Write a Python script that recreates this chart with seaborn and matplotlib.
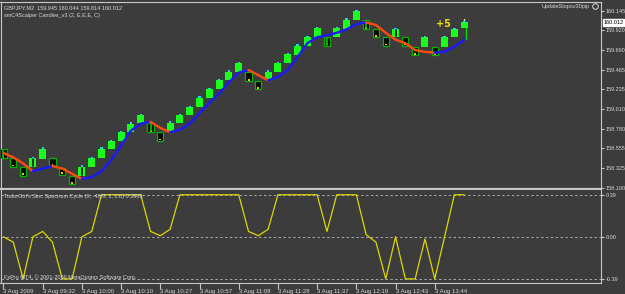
import numpy as np
import pandas as pd
import matplotlib
matplotlib.use("Agg")
import matplotlib.pyplot as plt
import seaborn as sns

# ---------------- data ----------------
bar_idx = list(range(48))
opens = [158.55, 158.44, 158.34, 158.34, 158.43, 158.44, 158.33, 158.24, 158.24, 158.34,
         158.44, 158.55, 158.64, 158.74, 158.85, 158.85, 158.74, 158.76, 158.85, 158.94,
         159.03, 159.14, 159.24, 159.34, 159.44, 159.44, 159.33, 159.34, 159.44, 159.54,
         159.63, 159.74, 159.84, 159.84, 159.84, 159.93, 160.04, 160.04, 159.93, 159.84,
         159.84, 159.84, 159.73, 159.73, 159.73, 159.73, 159.84, 159.945]
closes = [158.44, 158.34, 158.24, 158.44, 158.55, 158.35, 158.25, 158.14, 158.34, 158.44,
          158.55, 158.64, 158.74, 158.84, 158.94, 158.74, 158.64, 158.85, 158.94, 159.03,
          159.14, 159.24, 159.34, 159.44, 159.54, 159.33, 159.24, 159.44, 159.54, 159.645,
          159.74, 159.84, 159.945, 159.74, 159.945, 160.04, 160.14, 159.93, 159.84, 159.74,
          159.93, 159.74, 159.63, 159.84, 159.63, 159.84, 159.93, 160.012]
ma_line = [158.50, 158.45, 158.38, 158.29, 158.32, 158.35, 158.32, 158.26, 158.20, 158.22,
           158.29, 158.42, 158.59, 158.76, 158.84, 158.86, 158.79, 158.74, 158.77, 158.84,
           158.96, 159.08, 159.19, 159.32, 159.43, 159.46, 159.40, 159.34, 159.38, 159.46,
           159.61, 159.77, 159.84, 159.86, 159.89, 159.93, 159.99, 160.01, 159.98, 159.89,
           159.81, 159.77, 159.69, 159.67, 159.66, 159.67, 159.73, 159.81]
cycle = [0.0, -0.05, -0.39, 0.0, 0.05, -0.05, -0.39, -0.39, 0.0, 0.05,
         0.39, 0.39, 0.39, 0.39, 0.39, 0.05, 0.01, 0.07, 0.39, 0.39,
         0.39, 0.39, 0.39, 0.39, 0.39, 0.05, 0.01, 0.07, 0.39, 0.39,
         0.39, 0.39, 0.39, 0.05, 0.39, 0.39, 0.39, 0.02, -0.05, -0.39,
         0.0, -0.39, -0.39, -0.02, -0.39, 0.0, 0.39, 0.39]
stripe_bars = [0, 3, 8, 15, 33, 37, 40]
last_high = 160.044
last_low = 159.814
time_labels = ["3 Aug 2009", "3 Aug 09:32", "3 Aug 10:00", "3 Aug 10:10", "3 Aug 10:27",
               "3 Aug 10:57", "3 Aug 11:08", "3 Aug 11:28", "3 Aug 11:37", "3 Aug 12:19",
               "3 Aug 12:43", "3 Aug 13:44"]
price_ticks = [160.145, 159.920, 159.690, 159.465, 159.235, 159.010, 158.780, 158.555, 158.325, 158.100]
price_tick_labels = ["160.145", "159.920", "159.690", "159.465", "159.235", "159.010",
                     "158.780", "158.555", "158.325", "158.100"]
cycle_ticks = [0.39, 0.0, -0.39]
cycle_tick_labels = ["0.39", "0.00", "-0.39"]
current_price = 160.012

# ---------------- style ----------------
BG = "#3c3c3c"
FG = "#d8d8d8"
FRAME = "#c8c8c8"
FS = 4.0
FST = 4.0
sns.set_theme(style="dark")
FONT = ["Liberation Sans Narrow", "Liberation Sans", "DejaVu Sans"]
plt.rcParams["font.family"] = FONT
plt.rcParams["axes.facecolor"] = BG
plt.rcParams["figure.facecolor"] = BG

W, H = 625, 294
fig = plt.figure(figsize=(W / 100, H / 100), dpi=100)

def px_box(x0, y0, x1, y1):
    return [x0 / W, 1 - y1 / H, (x1 - x0) / W, (y1 - y0) / H]

ax = fig.add_axes(px_box(0.5, 2, 601, 188.5))
axi = fig.add_axes(px_box(0.5, 190, 601, 283))
for a in (ax, axi):
    a.set_facecolor(BG)
    a.grid(False)
    for s in a.spines.values():
        s.set_color(FRAME)
        s.set_linewidth(0.8)

# ---------------- main candles ----------------
df = pd.DataFrame({"bar": bar_idx, "open": opens, "close": closes, "ma": ma_line})
up = df[df.close >= df.open]
dn = df[df.close < df.open]
GREEN = "#19ff19"
ax.bar(up.bar, up.close - up.open, bottom=up.open, width=0.72, color=GREEN, linewidth=0, zorder=3)
ax.bar(dn.bar, dn.close - dn.open, bottom=dn.open, width=0.64, color="#050505",
       edgecolor="#00b400", linewidth=0.9, zorder=3)
# cyan tips on bullish, yellow tips on bearish
ax.bar(up.bar, 0.02, bottom=up.close - 0.004, width=0.24, color="#22d8e0", linewidth=0, zorder=4)
ax.bar(dn.bar, 0.02, bottom=dn.close + 0.006, width=0.2, color="#ffc000", linewidth=0, zorder=4)
# inner stripes
for b in stripe_bars:
    o, c = opens[b], closes[b]
    col = "#101010" if c >= o else "#00c800"
    ax.plot([b, b], [min(o, c) + 0.01, max(o, c) - 0.01], color=col, lw=1.2, zorder=4)
# last bar wick
lb = bar_idx[-1]
ax.plot([lb + 0.15, lb + 0.15], [last_low, closes[-1]], color="#00e000", lw=1.0, zorder=2)
ax.plot([lb, lb], [closes[-1], last_high], color="#c8e8c8", lw=1.0, zorder=2)

# moving average coloured by slope
runs = []
cur_col, cur = None, []
for i in range(len(ma_line) - 1):
    col = "#1a1aff" if ma_line[i + 1] >= ma_line[i] else "#ff4a10"
    if col != cur_col:
        if cur:
            runs.append((cur_col, cur))
        cur = [i]
        cur_col = col
    cur.append(i + 1)
runs.append((cur_col, cur))
for col, idxs in runs:
    seg = df.iloc[idxs]
    sns.lineplot(x=seg.bar, y=seg.ma, ax=ax, color=col, lw=1.7, zorder=5, sort=False)

ax.set_xlim(-0.306, 60.96)
ax.set_ylim(158.090, 160.246)
ax.set_xlabel("")
ax.set_ylabel("")
ax.set_xticks([])
ax.yaxis.tick_right()
ax.set_yticks(price_ticks)
ax.set_yticklabels(price_tick_labels)
ax.tick_params(axis="y", colors=FRAME, labelcolor=FG, length=2.5, width=0.8, pad=1.0,
               labelsize=FST, right=True, left=False)
ax.spines["bottom"].set_linewidth(1.6)

# current price box
ax.annotate("160.012", xy=(1.0, current_price), xycoords=("axes fraction", "data"),
            xytext=(1.8, 0), textcoords="offset points", ha="left", va="center",
            fontsize=FST, color="#000000",
            bbox=dict(boxstyle="square,pad=0.15", fc="#ffffff", ec="#ffffff"), zorder=10,
            annotation_clip=False)

ax.text(44.85, 159.997, "+5", color="#e8e000", fontsize=7, fontweight="bold",
        ha="center", va="center", family=["DejaVu Sans"], zorder=6)

ax.text(0.005, 0.985, "GBPJPY,M2  159.945 160.044 159.814 160.012", transform=ax.transAxes,
        color=FG, fontsize=FS, ha="left", va="top")
ax.text(0.005, 0.94, "smC4Scalper Candles_v3 (2, E,E,E, C)", transform=ax.transAxes,
        color=FG, fontsize=FS, ha="left", va="top")
ax.text(0.982, 0.978, "UpdateStopsv30pip", transform=ax.transAxes,
        color=FG, fontsize=FS, ha="right", va="center")
ax.plot([0.990], [0.978], transform=ax.transAxes, marker="o", ms=4, mfc="none",
        mec=FG, mew=0.7, clip_on=False)

# ---------------- indicator ----------------
dfi = pd.DataFrame({"bar": bar_idx, "cycle": cycle})
for v in cycle_ticks:
    axi.axhline(v, color="#a8a8a8", lw=0.7, ls=(0, (2.5, 2.5)), zorder=1)
sns.lineplot(data=dfi, x="bar", y="cycle", ax=axi, color="#dcd800", lw=0.9, zorder=3)
axi.set_xlim(-0.306, 60.96)
axi.set_ylim(-0.428, 0.434)
axi.set_xlabel("")
axi.set_ylabel("")
axi.spines["top"].set_visible(False)
axi.yaxis.tick_right()
axi.set_yticks(cycle_ticks)
axi.set_yticklabels(cycle_tick_labels)
axi.tick_params(axis="y", colors=FRAME, labelcolor=FG, length=2.5, width=0.8, pad=1.0,
                labelsize=FST, right=True, left=False)
axi.set_xticks(bar_idx[::4])
axi.set_xticklabels(time_labels)
axi.tick_params(axis="x", colors=FRAME, labelcolor=FG, length=4, width=0.8, pad=0.5,
                labelsize=4.3, bottom=True)
for lab in axi.get_xticklabels():
    lab.set_ha("left")

axi.text(0.005, 0.93, "TudorGirl's Sinc Spectrum Cycle (9, -48.0, 1, 2.8) 0.3903",
         transform=axi.transAxes, color=FG, fontsize=FS, ha="left", va="center")
axi.text(0.005, 0.06, "FxPro MT4, \u00a9 2001-2009 MetaQuotes Software Corp.",
         transform=axi.transAxes, color=FG, fontsize=FS, ha="left", va="center")

fig.savefig("out.png", dpi=100, facecolor=BG)
